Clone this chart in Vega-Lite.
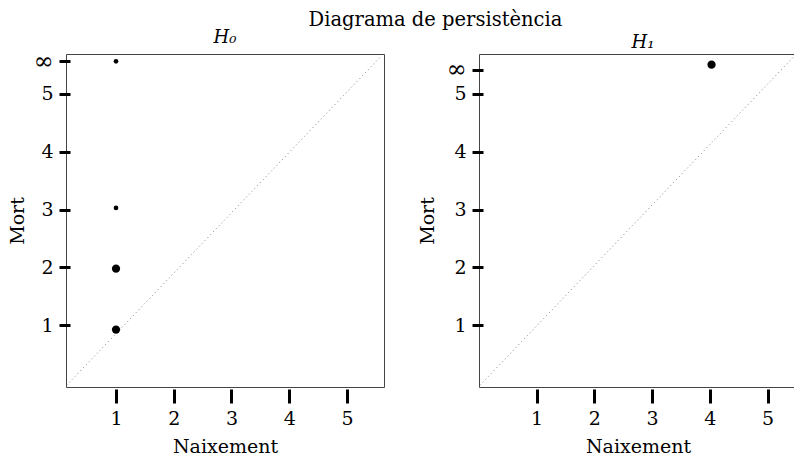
{
  "$schema": "https://vega.github.io/schema/vega-lite/v6.json",
  "background": "white",
  "padding": {"left": 7, "top": 10, "right": 0, "bottom": 0},
  "title": {"text": "Diagrama de persistència", "fontSize": 19.5, "anchor": "middle", "offset": 2, "dx": 33, "dy": 4},
  "datasets": {
    "h0": [
      {"naixement": 1, "mort": 0.926, "n": 2},
      {"naixement": 1, "mort": 1.98, "n": 2},
      {"naixement": 1, "mort": 3.03, "n": 1},
      {"naixement": 1, "mort": 5.563, "n": 1}
    ],
    "h1": [
      {"naixement": 4.03, "mort": 5.506, "n": 2}
    ],
    "diag0": [
      {"naixement": 0.145, "mort": -0.036},
      {"naixement": 5.57, "mort": 5.63}
    ],
    "diag1": [
      {"naixement": 0.02, "mort": -0.036},
      {"naixement": 5.47, "mort": 5.66}
    ]
  },
  "config": {
    "font": "DejaVu Serif",
    "view": {"stroke": "#444", "strokeWidth": 1},
    "axis": {"labelFont": "DejaVu Serif", "titleFont": "DejaVu Serif", "labelFontSize": 19, "titleFontSize": 19, "titleFontWeight": "normal", "labelColor": "black", "titleColor": "black", "tickColor": "black", "tickWidth": 3, "domain": false, "grid": false, "labelOverlap": false, "labelFlush": false},
    "axisX": {"tickSize": 14, "offset": 2, "labelPadding": 6, "titlePadding": 9},
    "axisY": {"tickSize": 11, "offset": -4, "labelPadding": 6, "titlePadding": 9},
    "title": {"font": "DejaVu Serif", "fontWeight": "normal", "color": "black"},
    "concat": {"spacing": 32}
  },
  "hconcat": [
    {
      "width": 318, "height": 333,
      "title": {"text": "H₀", "fontSize": 18, "fontStyle": "italic", "offset": 2},
      "encoding": {
        "x": {"field": "naixement", "type": "quantitative", "scale": {"domain": [0.134, 5.641], "nice": false, "zero": false}, "axis": {"title": "Naixement", "values": [1, 2, 3, 4, 5]}},
        "y": {"field": "mort", "type": "quantitative", "scale": {"domain": [-0.066, 5.69], "nice": false, "zero": false}, "axis": {"title": "Mort", "titlePadding": 6, "values": [1, 2, 3, 4, 5, 5.563], "labelExpr": "datum.value > 5.2 ? '∞' : datum.label", "labelFontSize": {"condition": {"test": "datum.value > 5.2", "value": 24}, "value": 19}}}
      },
      "layer": [
        {"data": {"name": "diag0"}, "mark": {"type": "line", "stroke": "#808080", "strokeWidth": 1, "strokeDash": [1, 3]}, "encoding": {}},
        {"data": {"name": "h0"}, "mark": {"type": "point", "filled": true, "shape": "circle", "color": "black", "opacity": 1}, "encoding": {"size": {"field": "n", "type": "quantitative", "scale": {"domain": [1, 2], "range": [22, 68]}, "legend": null}}}
      ]
    },
    {
      "width": 318, "height": 333,
      "title": {"text": "H₁", "fontSize": 18, "fontStyle": "italic", "offset": 2, "dx": 5},
      "encoding": {
        "x": {"field": "naixement", "type": "quantitative", "scale": {"domain": [0.003, 5.51], "nice": false, "zero": false}, "axis": {"title": "Naixement", "values": [1, 2, 3, 4, 5]}},
        "y": {"field": "mort", "type": "quantitative", "scale": {"domain": [-0.066, 5.69], "nice": false, "zero": false}, "axis": {"title": "Mort", "values": [1, 2, 3, 4, 5, 5.414], "labelExpr": "datum.value > 5.2 ? '∞' : datum.label", "labelFontSize": {"condition": {"test": "datum.value > 5.2", "value": 24}, "value": 19}}}
      },
      "layer": [
        {"data": {"name": "diag1"}, "mark": {"type": "line", "stroke": "#808080", "strokeWidth": 1, "strokeDash": [1, 3]}, "encoding": {}},
        {"data": {"name": "h1"}, "mark": {"type": "point", "filled": true, "shape": "circle", "color": "black", "opacity": 1}, "encoding": {"size": {"field": "n", "type": "quantitative", "scale": {"domain": [1, 2], "range": [22, 68]}, "legend": null}}}
      ]
    }
  ]
}
